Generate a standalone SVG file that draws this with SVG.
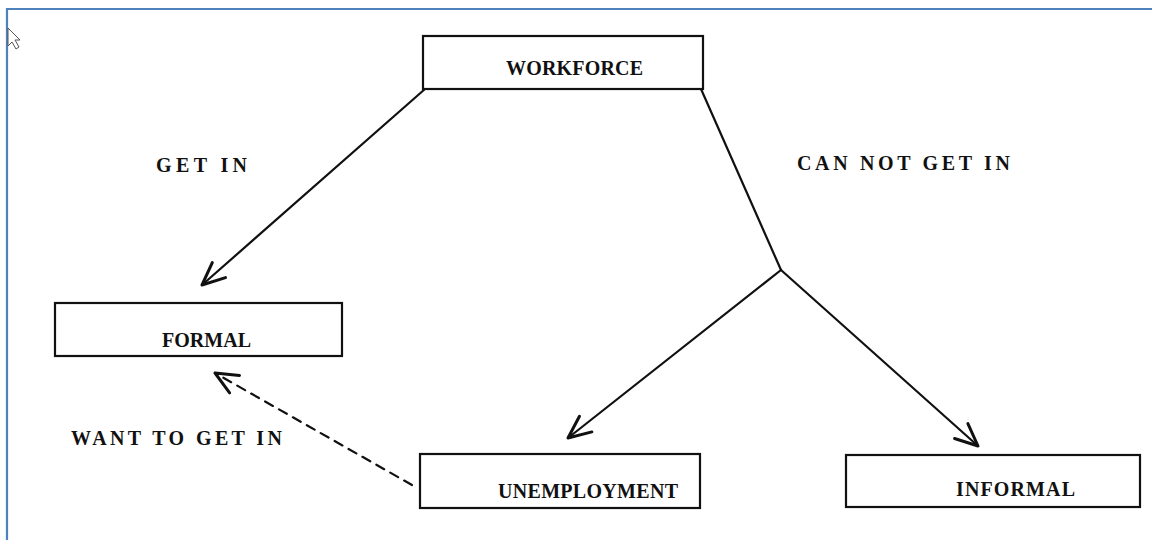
<svg xmlns="http://www.w3.org/2000/svg" width="1152" height="540" viewBox="0 0 1152 540">
  <defs>
    <style>
      .box { fill: #ffffff; stroke: #111111; stroke-width: 2.2; }
      .lbl { font-family: "Liberation Serif", "DejaVu Serif", serif; font-weight: bold; font-size: 20px; fill: #111111; }
      .edge { fill: none; stroke: #111111; stroke-width: 2.2; stroke-linecap: round; }
      .dash { stroke-dasharray: 9 7; }
    </style>
    <marker id="arr" markerUnits="userSpaceOnUse" markerWidth="30" markerHeight="30" viewBox="-20 -12 24 24" refX="0" refY="0" orient="auto">
      <path d="M-18,-8 L0,0 L-18,8" fill="none" stroke="#111111" stroke-width="2.4" stroke-linecap="round" stroke-linejoin="round"/>
    </marker>
  </defs>
  <rect width="1152" height="540" fill="#ffffff"/>
  <path d="M7,540 V9 H1152" fill="none" stroke="#4f81bd" stroke-width="2.2"/>
  <path d="M8,28 L20,40 L15,40 L19,47 L16,49 L12,42 L8,46 Z" fill="#ffffff" stroke="#555555" stroke-width="1"/>

  <g id="connectors">
    <line class="edge" x1="425" y1="89" x2="202" y2="285" marker-end="url(#arr)"/>
    <polyline class="edge" points="701,89 781,270"/>
    <line class="edge" x1="781" y1="270" x2="568" y2="438" marker-end="url(#arr)"/>
    <line class="edge" x1="781" y1="270" x2="978" y2="446" marker-end="url(#arr)"/>
    <line class="edge dash" x1="412" y1="485" x2="215" y2="373" marker-end="url(#arr)"/>
    <text class="lbl" x="156" y="172" textLength="91" lengthAdjust="spacing">GET IN</text>
    <text class="lbl" x="797" y="170" textLength="213" lengthAdjust="spacing">CAN NOT GET IN</text>
    <text class="lbl" x="71" y="445" textLength="211" lengthAdjust="spacing">WANT TO GET IN</text>
  </g>

  <g id="workforce">
    <rect class="box" x="423" y="36" width="280" height="53"/>
    <text class="lbl" x="506" y="75" textLength="137" lengthAdjust="spacing">WORKFORCE</text>
  </g>
  <g id="formal">
    <rect class="box" x="55" y="303" width="287" height="53"/>
    <text class="lbl" x="162" y="347" textLength="89" lengthAdjust="spacing">FORMAL</text>
  </g>
  <g id="unemployment">
    <rect class="box" x="420" y="454" width="280" height="54"/>
    <text class="lbl" x="498" y="498" textLength="180" lengthAdjust="spacing">UNEMPLOYMENT</text>
  </g>
  <g id="informal">
    <rect class="box" x="846" y="455" width="294" height="52"/>
    <text class="lbl" x="956" y="496" textLength="119" lengthAdjust="spacing">INFORMAL</text>
  </g>
</svg>
